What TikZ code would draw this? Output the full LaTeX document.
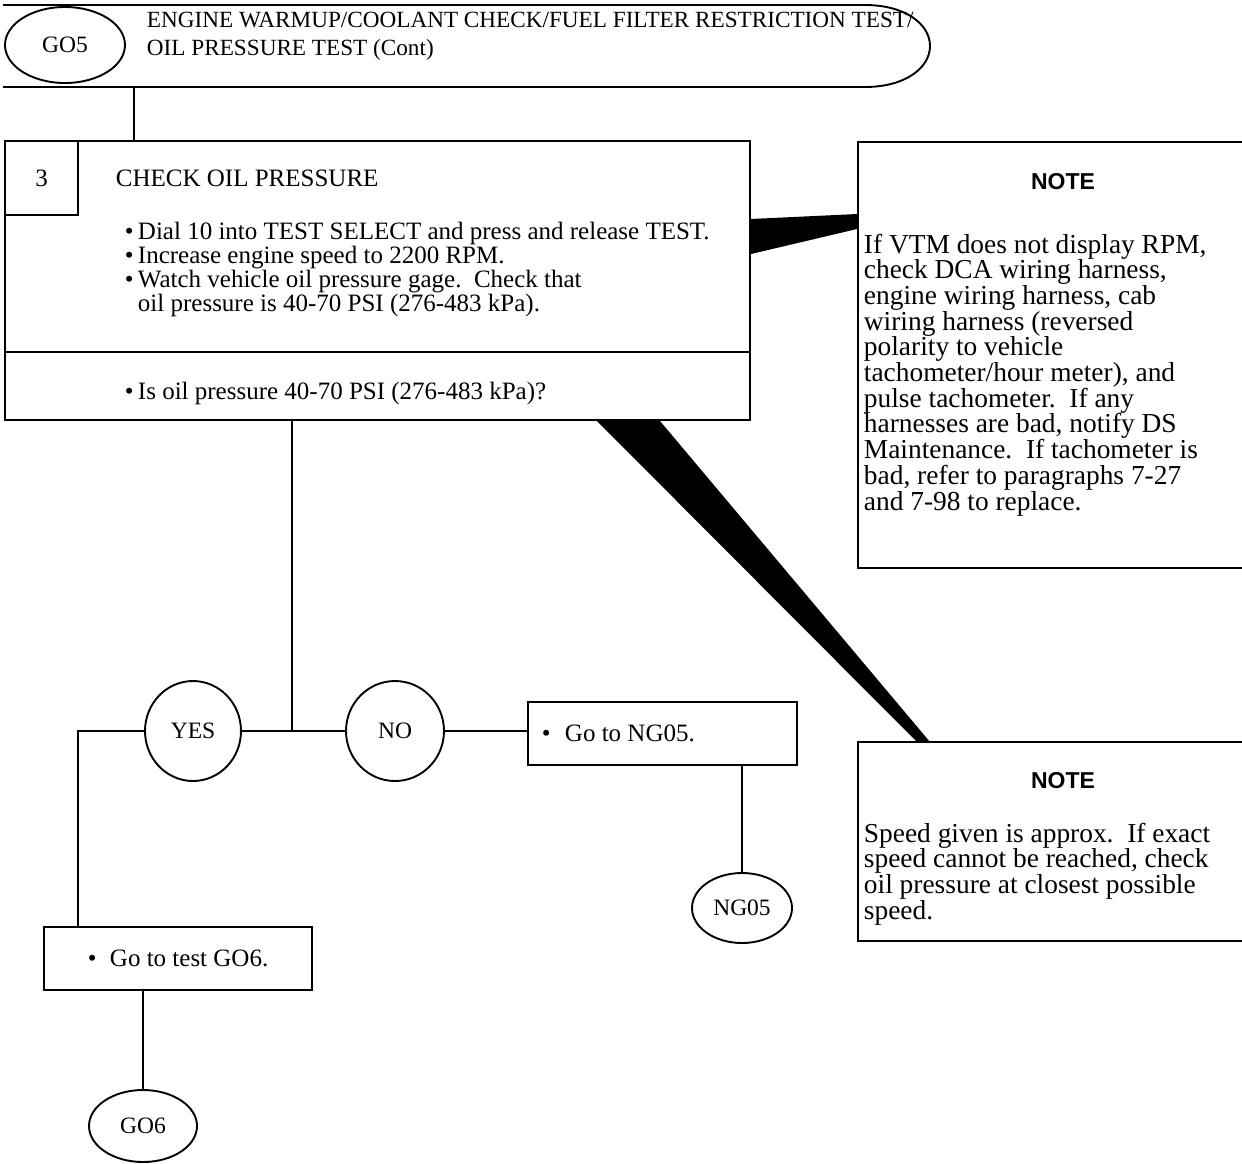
\documentclass[tikz,border=0pt]{standalone}
\usepackage{fontspec}
\setmainfont{Liberation Serif}
\newfontfamily\noteheadfont{Liberation Sans}
\usetikzlibrary{shapes.geometric}
\begin{document}
\begin{tikzpicture}[x=1pt,y=-1pt,
  line width=1.9pt,
  box/.style={draw, rectangle, inner sep=0pt},
  oval/.style={draw, ellipse, inner sep=0pt, fill=white, font=\fontsize{23.5}{24}\selectfont},
  hdr/.style={anchor=base west, inner sep=0pt, font=\fontsize{23.2}{28}\selectfont},
  body/.style={anchor=base west, inner sep=0pt, font=\fontsize{25}{24}\selectfont},
  notet/.style={anchor=base west, inner sep=0pt, font=\fontsize{27.4}{26}\selectfont},
  noteh/.style={anchor=base, inner sep=0pt, font=\fontsize{23}{24}\noteheadfont\bfseries},
  wedge/.style={fill=black, draw=none}
]
\useasboundingbox (0,0) rectangle (1242,1163);

% header banner
\draw (3,5) -- (865,5) .. controls (905,5) and (930,24) .. (930,46) .. controls (930,68) and (905,87) .. (865,87) -- (3,87);
\node[oval, minimum width=120, minimum height=76] (go5) at (65,45) {GO5};
\node[hdr] (h1) at (146,27) {ENGINE WARMUP/COOLANT CHECK/FUEL FILTER RESTRICTION TEST/};
\node[hdr] (h2) at (146,55) {OIL PRESSURE TEST (Cont)};
\coordinate (hb) at (134,87);

% step box
\node[box, minimum width=745, minimum height=279] (step) at (377.5,280.5) {};
\node[box, minimum width=73, minimum height=74, font=\fontsize{25}{24}\selectfont] (num) at (41.5,178) {3};
\draw (step.west |- 0,352) -- (step.east |- 0,352);
\draw (hb) -- (hb |- step.north);
\node[body] (title) at (115,186) {CHECK OIL PRESSURE};
\node[body] (b1) at (124,239) {\textbullet};
\node[body] (l1) at (137,239) {Dial 10 into TEST SELECT and press and release TEST.};
\node[body] (b2) at (124,263) {\textbullet};
\node[body] (l2) at (137,263) {Increase engine speed to 2200 RPM.};
\node[body] (b3) at (124,287) {\textbullet};
\node[body] (l3) at (137,287) {Watch vehicle oil pressure gage.\ \ Check that};
\node[body] (l4) at (137,311) {oil pressure is 40-70 PSI (276-483 kPa).};
\node[body] (bq) at (124,399) {\textbullet};
\node[body] (q) at (137,399) {Is oil pressure 40-70 PSI (276-483 kPa)?};

% decision
\coordinate (j) at (292,731);
\draw (step.south -| j) -- (j);
\node[oval, minimum width=96, minimum height=100] (yes) at (193,731) {YES};
\node[oval, minimum width=98, minimum height=100] (no) at (395,731) {NO};
\draw (yes) -- (no);
\node[box, minimum width=269, minimum height=63] (ngbox) at (662.5,733.5) {};
\node[body] (ngb) at (541,741) {\textbullet};
\node[body] (ngt) at (564,741) {Go to NG05.};
\draw (no.east) -- (no.east -| ngbox.west);
\node[oval, minimum width=100, minimum height=70] (ng05) at (742,908) {NG05};
\draw (ng05.north) -- (ng05.north |- ngbox.south);

\node[box, minimum width=268, minimum height=63] (g6box) at (178,958.5) {};
\node[body] (g6b) at (87,966) {\textbullet};
\node[body] (g6t) at (109,966) {Go to test GO6.};
\coordinate (yl) at (78,731);
\draw (yes.west) -- (yl) -- (yl |- g6box.north);
\node[oval, minimum width=108, minimum height=72] (go6) at (143,1126) {GO6};
\draw (go6.north) -- (go6.north |- g6box.south);

% notes
\node[box, minimum width=393, minimum height=426, anchor=north west] (note1) at (857,141) {};
\node[box, minimum width=393, minimum height=199, anchor=north west] (note2) at (857,741) {};
\node[noteh] (n1h) at (1063,189) {NOTE};
\foreach \t [count=\i] in {{If VTM does not display RPM,},{check DCA wiring harness,},{engine wiring harness, cab},{wiring harness (reversed},{polarity to vehicle},{tachometer/hour meter), and},{pulse tachometer.\ \ If any},{harnesses are bad, notify DS},{Maintenance.\ \ If tachometer is},{bad, refer to paragraphs 7-27},{and 7-98 to replace.}}
  \node[notet] (n1l\i) at (863,{253+25.7*(\i-1)}) {\t};
\node[noteh] (n2h) at (1063,788) {NOTE};
\foreach \t [count=\i] in {{Speed given is approx.\ \ If exact},{speed cannot be reached, check},{oil pressure at closest possible},{speed.}}
  \node[notet] (n2l\i) at (863,{842+25.7*(\i-1)}) {\t};

% callout wedges
\fill[wedge] (step.east |- 0,219) -- (note1.west |- 0,214) -- (note1.west |- 0,229) -- (step.east |- 0,254) -- cycle;
\fill[wedge] (597,421) -- (660,421) -- (930,742) -- (917,742) -- cycle;
\end{tikzpicture}
\end{document}
